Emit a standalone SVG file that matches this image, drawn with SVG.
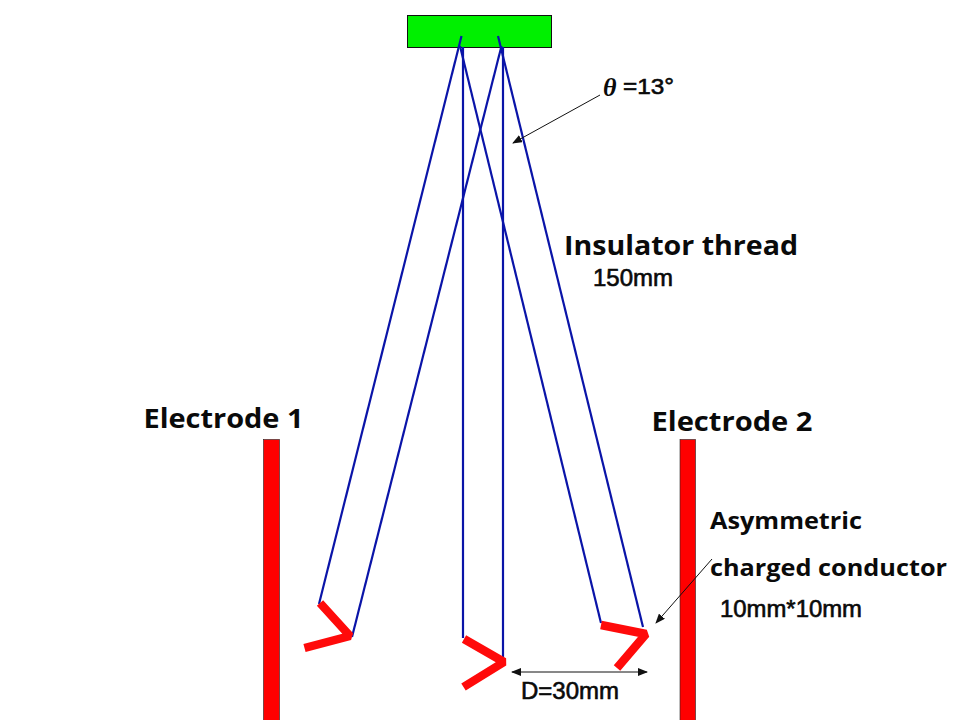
<svg xmlns="http://www.w3.org/2000/svg" width="960" height="720" viewBox="0 0 960 720">
<style>
.t{font-family:"Open Sans","Liberation Sans",sans-serif;font-weight:700;fill:#0a0a0a}
.m{font-family:"Liberation Sans",sans-serif;font-weight:400;fill:#0a0a0a;stroke:#0a0a0a;stroke-width:.6}
.th{stroke:#0a14a8;stroke-width:2.200;fill:none}
.r{stroke:#ff0a0a;stroke-width:8.500;fill:none;stroke-linejoin:bevel}
.a{stroke:#111;stroke-width:1;fill:none}
.e{fill:#ff0000;stroke:#222;stroke-width:.6}
</style>
<defs>
<marker id="ah" markerUnits="userSpaceOnUse" markerWidth="10" markerHeight="8" refX="9" refY="4" orient="auto-start-reverse"><path d="M0 0L10 4L0 8Z" fill="#111"/></marker>
</defs>
<rect width="960" height="720" fill="#fff"/>
<g id="support"><rect x="407.500" y="15.500" width="144" height="32" fill="#00f000" stroke="#111" stroke-width="1"/></g>
<g id="electrode1"><rect class="e" x="263.500" y="439.500" width="16" height="281"/><text class="t" x="143.500" y="428" font-size="26" textLength="160" lengthAdjust="spacingAndGlyphs">Electrode 1</text></g>
<g id="electrode2"><rect class="e" x="680" y="439.500" width="15.500" height="281"/><text class="t" x="651.500" y="431" font-size="26" textLength="161" lengthAdjust="spacingAndGlyphs">Electrode 2</text></g>
<g id="connectors">
<path class="th" d="M461.500 36L319 604"/>
<path class="th" d="M498 36L643 627"/>
<path class="th" d="M460 46L601 623"/>
<path class="th" d="M501.500 46L352 637"/>
<path class="th" d="M463 47V638"/>
<path class="th" d="M503 47V660"/>
<path class="a" marker-end="url(#ah)" d="M600 95L513 143"/>
<path class="a" marker-end="url(#ah)" d="M712 559L656 623"/>
<path class="a" marker-start="url(#ah)" marker-end="url(#ah)" d="M512 672H647"/>
</g>
<g id="conductor1"><path class="r" d="M320 603L350 636L304.500 648"/></g>
<g id="conductor2"><path class="r" d="M464 639L504 662L463.500 687"/></g>
<g id="conductor3"><path class="r" d="M601 625L646 634L617 668"/></g>
<g id="labels">
<text x="603" y="96" font-family="Liberation Serif,serif" font-size="26" font-style="italic" font-weight="700" fill="#0a0a0a">θ</text>
<text class="m" x="623" y="94" font-size="22" textLength="51" lengthAdjust="spacingAndGlyphs">=13°</text>
<text class="t" x="564" y="255" font-size="26" textLength="234" lengthAdjust="spacingAndGlyphs">Insulator thread</text>
<text class="m" x="593" y="286" font-size="23" textLength="80" lengthAdjust="spacingAndGlyphs">150mm</text>
<text class="t" x="710" y="529" font-size="24" textLength="152" lengthAdjust="spacingAndGlyphs">Asymmetric</text>
<text class="t" x="710" y="576" font-size="24" textLength="237" lengthAdjust="spacingAndGlyphs">charged conductor</text>
<text class="m" x="720" y="617" font-size="23" textLength="142" lengthAdjust="spacingAndGlyphs">10mm*10mm</text>
<text class="m" x="521" y="699" font-size="23" textLength="98" lengthAdjust="spacingAndGlyphs">D=30mm</text>
</g>
</svg>
